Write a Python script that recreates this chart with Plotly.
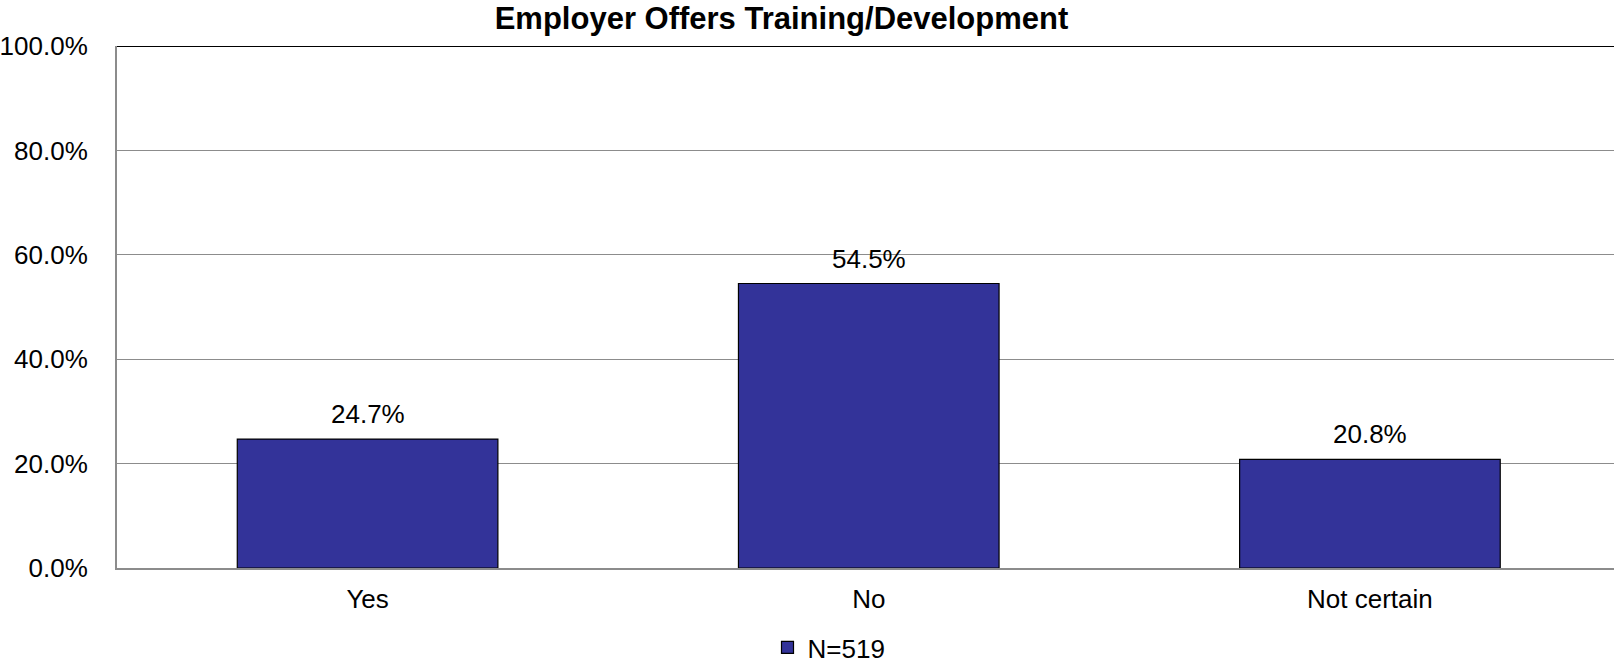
import plotly.graph_objects as go

categories = ["Yes", "No", "Not certain"]
values = [24.7, 54.5, 20.8]
value_labels = ["24.7%", "54.5%", "20.8%"]
series_name = "N=519"
y_ticks = [0, 20, 40, 60, 80, 100]
y_tick_labels = ["0.0%", "20.0%", "40.0%", "60.0%", "80.0%", "100.0%"]
title_text = "Employer Offers Training/Development"

FONT = "Liberation Sans, Arial, sans-serif"
W, H = 1614, 671

fig = go.Figure()
fig.add_trace(go.Bar(
    x=categories, y=values, name=series_name,
    marker=dict(color="#333399", line=dict(color="black", width=1.2)),
    showlegend=True,
))

for cat, val, lab in zip(categories, values, value_labels):
    fig.add_annotation(x=cat, y=val, text=lab, showarrow=False,
                       xref="x", yref="y", yanchor="middle", yshift=25,
                       font=dict(family=FONT, size=26, color="black"))

fig.add_shape(type="line", xref="paper", yref="y", x0=0, x1=1, y0=100, y1=100,
              line=dict(color="black", width=2), layer="above")

fig.update_layout(
    width=W, height=H,
    margin=dict(l=117, r=0, t=46, b=103, autoexpand=False),
    paper_bgcolor="white", plot_bgcolor="white",
    font=dict(family=FONT, size=26, color="black"),
    title=dict(text="<b>" + title_text + "</b>", x=781.5 / W, xref="container", xanchor="center",
               y=1 - 18.5 / H, yref="container", yanchor="middle",
               font=dict(family=FONT, size=31, color="black")),
    bargap=0.48,
    showlegend=True,
    legend=dict(orientation="h", xref="container", yref="container",
                x=829 / W, xanchor="center", y=0, yanchor="bottom",
                font=dict(family=FONT, size=26, color="black"),
                bgcolor="rgba(0,0,0,0)", tracegroupgap=0),
    xaxis=dict(range=[-0.5, 2.487], showgrid=False, showline=True, linecolor="#8c8c8c",
               linewidth=2, ticks="", ticklabelstandoff=7, zeroline=False),
    yaxis=dict(range=[0, 100], tickvals=y_ticks, ticktext=y_tick_labels,
               showgrid=True, gridcolor="#8c8c8c", gridwidth=1,
               showline=True, linecolor="#8c8c8c", linewidth=2,
               ticks="", ticklabelstandoff=22, zeroline=False),
)

fig.write_html("out.html", config={"displayModeBar": False},
               post_script="document.body.style.margin='0px';document.body.style.overflow='hidden';")
